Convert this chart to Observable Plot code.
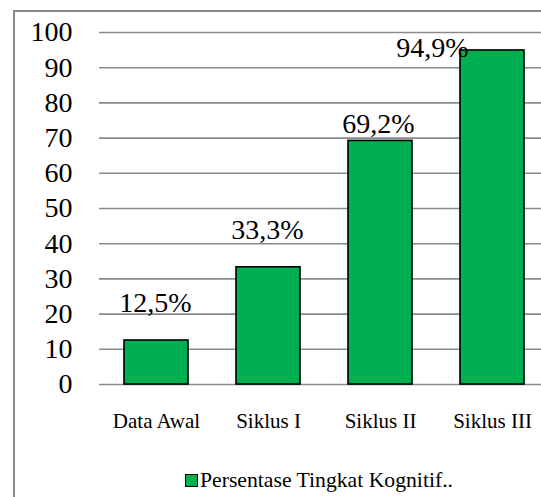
<!DOCTYPE html>
<html>
<head>
<meta charset="utf-8">
<script src="https://cdn.jsdelivr.net/npm/d3@7"></script>
<script src="https://cdn.jsdelivr.net/npm/@observablehq/plot@0.6"></script>
<style>
  html, body { margin: 0; padding: 0; background: #fff; }
  #wrap { position: relative; width: 541px; height: 497px; overflow: hidden; font-family: "Liberation Serif", "Times New Roman", Tinos, "DejaVu Serif", serif; }
  #frame { position: absolute; left: 13px; top: 10px; width: 700px; height: 700px; border: 2px solid #8a8a8a; box-sizing: border-box; }
  #chart { position: absolute; left: 0; top: 0; }
  #chart svg text { font-family: "Liberation Serif", "Times New Roman", Tinos, "DejaVu Serif", serif; }
  #legend { position: absolute; left: 185px; top: 468px; height: 24px; display: flex; align-items: center; font-size: 21.7px; color: #000; white-space: nowrap; }
  #legend .sw { width: 11px; height: 11px; background: #00b050; border: 1.5px solid #000; margin-right: 2px; }
</style>
</head>
<body>
<div id="wrap">
  <div id="frame"></div>
  <div id="chart"></div>
  <div id="legend"><span class="sw"></span><span id="legendText"></span></div>
</div>
<script>
const categories = ["Data Awal", "Siklus I", "Siklus II", "Siklus III"];
const values = [12.5, 33.3, 69.2, 94.9];
const valueLabels = ["12,5%", "33,3%", "69,2%", "94,9%"];
const yTicks = [0, 10, 20, 30, 40, 50, 60, 70, 80, 90, 100];
const seriesName = "Persentase Tingkat Kognitif..";

const data = categories.map((c, i) => ({category: c, value: values[i], label: valueLabels[i]}));

// label placement offsets (px), as in the reference
const labelDy = [-37, -37, -17, -2];
const labelDx = [-1, -1, -2, -60];

const chart = Plot.plot({
  width: 541,
  height: 445,
  marginLeft: 99,
  marginRight: 0,
  marginTop: 32,
  marginBottom: 61,
  style: {background: "transparent", color: "#000", overflow: "visible"},
  x: {type: "band", domain: categories, range: [99, 549], paddingInner: 0.43, paddingOuter: 0.215, align: 0.5, label: null},
  y: {domain: [0, 100], range: [384, 32], label: null},
  marks: [
    Plot.ruleY(yTicks, {stroke: "#8a8a8a", strokeWidth: 1.6}),
    Plot.barY(data, {x: "category", y: "value", fill: "#00b050", stroke: "#000", strokeWidth: 1.6}),
    Plot.axisY(yTicks, {tickSize: 0, tickPadding: 27, fontSize: 28, fill: "#000", tickFormat: d => String(d)}),
    Plot.axisX({tickSize: 0, tickPadding: 29, fontSize: 21, fill: "#000"}),
    ...data.map((d, i) => Plot.text([d], {
      x: "category", y: "value", text: "label",
      dy: labelDy[i], dx: labelDx[i],
      fontSize: 28, fill: "#000", textAnchor: "middle", lineAnchor: "middle"
    }))
  ]
});
document.getElementById("chart").appendChild(chart);
document.getElementById("legendText").textContent = seriesName;
</script>
</body>
</html>
